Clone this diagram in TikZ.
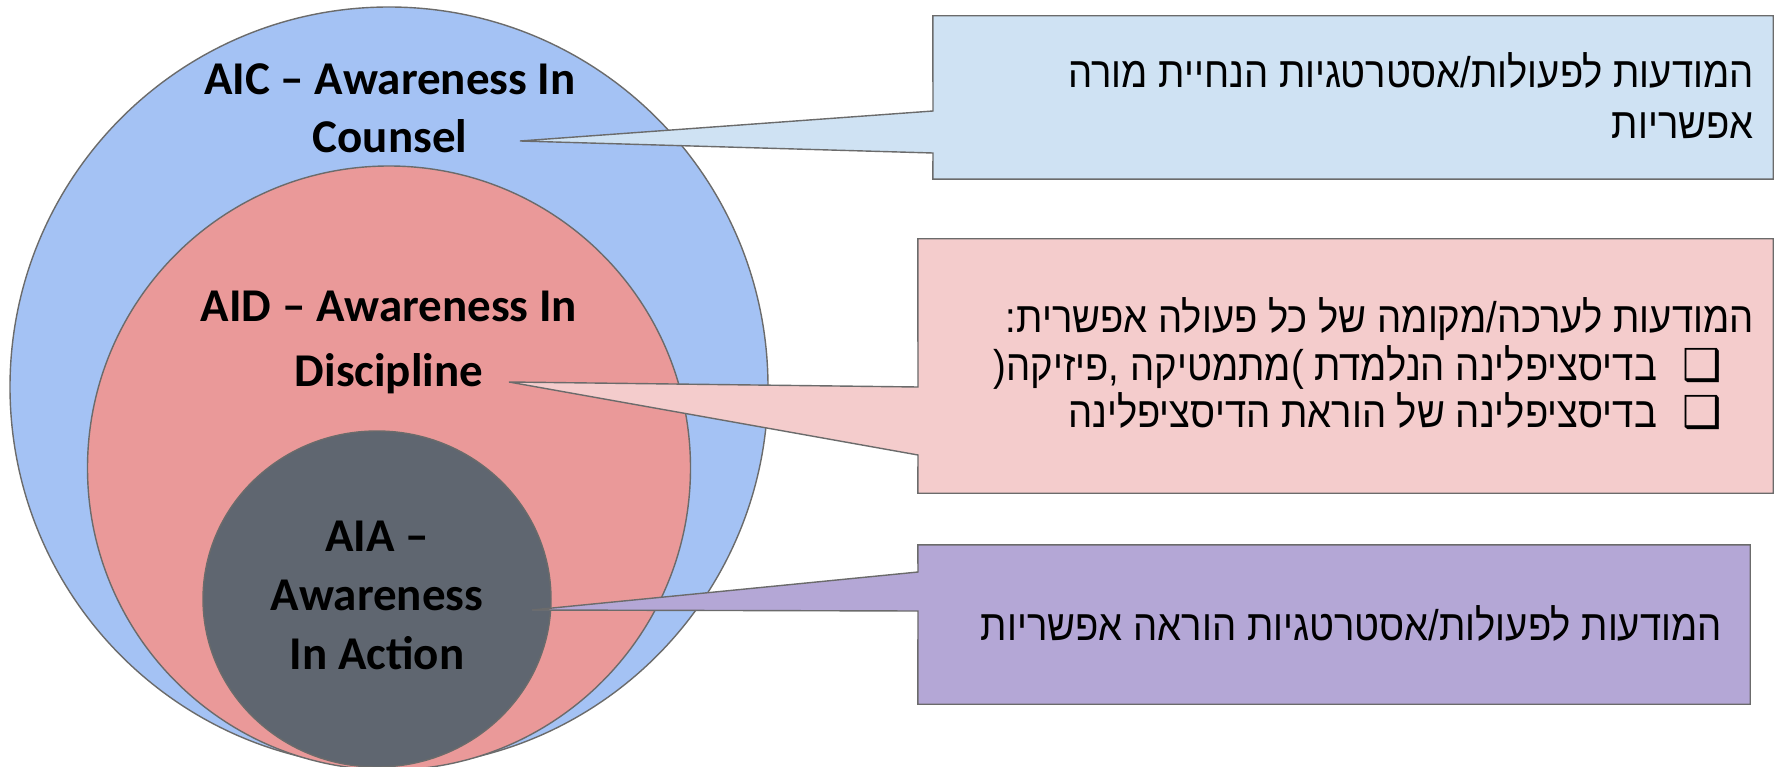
\documentclass[tikz,border=0pt]{standalone}
\usepackage{fontspec}
\setmainfont{Carlito}
\newfontfamily\hebfont[Script=Hebrew, FakeStretch=0.89]{Liberation Sans}
\newfontfamily\symfont{DejaVu Sans}
\TeXXeTstate=1
\usetikzlibrary{shapes.geometric}
\definecolor{aicfill}{HTML}{A4C2F4}
\definecolor{aidfill}{HTML}{EA9999}
\definecolor{aiafill}{HTML}{5F6670}
\definecolor{boxblue}{HTML}{CFE2F3}
\definecolor{boxpink}{HTML}{F4CCCC}
\definecolor{boxpurple}{HTML}{B4A7D6}
\definecolor{edge}{HTML}{6B6B6B}
\begin{document}
\begin{tikzpicture}[x=1pt,y=-1pt,
  ring/.style={ellipse, draw=edge, line width=1.4pt, inner sep=0pt},
  boxnode/.style={rectangle, inner sep=0pt},
  callout/.style={draw=edge, line width=1.4pt, line join=miter},
  lbl/.style={font=\fontsize{47}{56}\selectfont\bfseries, text=black, inner sep=0pt, anchor=base},
  heb/.style={font=\fontsize{43}{50}\selectfont\hebfont, text=black, inner sep=0pt, anchor=base east},
  chk/.style={font=\fontsize{44}{50}\selectfont\symfont, text=black, inner sep=0pt, anchor=base east}]
\useasboundingbox (0,0) rectangle (1775,767);
\fill[white] (0,0) rectangle (1775,767);

% circles
\node[ring, fill=aicfill, minimum width=758pt, minimum height=760pt] (aic) at (389,387) {};
\node[ring, fill=aidfill, minimum width=603pt, minimum height=604pt] (aid) at (389,468) {};
\node[ring, fill=aiafill, minimum width=348pt, minimum height=336pt] (aia) at (377,599) {};

% boxes (named) and callouts
\node[boxnode, minimum width=840pt, minimum height=163pt] (boxC) at (1353,97.5) {};
\node[boxnode, minimum width=855pt, minimum height=254pt] (boxD) at (1345.5,366) {};
\node[boxnode, minimum width=832pt, minimum height=159pt] (boxA) at (1334,624.5) {};

\coordinate (tipC) at (520,141);
\coordinate (tipD) at (509,382);
\coordinate (tipA) at (532,610);

\path[callout, fill=boxblue] (boxC.north west) -- (boxC.north east) -- (boxC.south east) -- (boxC.south west)
  -- (933,153) -- (tipC) -- (933,111) -- cycle;
\path[callout, fill=boxpink] (boxD.north west) -- (boxD.north east) -- (boxD.south east) -- (boxD.south west)
  -- (918,455) -- (tipD) -- (918,387) -- cycle;
\path[callout, fill=boxpurple] (boxA.north west) -- (boxA.north east) -- (boxA.south east) -- (boxA.south west)
  -- (918,611) -- (tipA) -- (918,572) -- cycle;

% circle labels
\node[lbl] (aicA) at (390,95) {AIC – Awareness In};
\node[lbl] (aicB) at (390,153) {Counsel};
\node[lbl] (aidA) at (389,321) {AID – Awareness In};
\node[lbl] (aidB) at (389,386) {Discipline};
\node[lbl] (aiaA) at (377,551) {AIA –};
\node[lbl] (aiaB) at (377,610) {Awareness};
\node[lbl] (aiaC) at (377,669) {In Action};

% box texts
\node[heb] (tC1) at (1754,88) {\beginR המודעות לפעולות/אסטרטגיות הנחיית מורה\endR};
\node[heb] (tC2) at (1754,139) {\beginR אפשריות\endR};

\node[heb] (tD1) at (1754,332) {\beginR המודעות לערכה/מקומה של כל פעולה אפשרית:\endR};
\node[chk] (cb1) at (1722,380) {❑};
\node[heb] (tD2) at (1657,380) {\beginR בדיסציפלינה הנלמדת )מתמטיקה ,פיזיקה(\endR};
\node[chk] (cb2) at (1722,427) {❑};
\node[heb] (tD3) at (1657,427) {\beginR בדיסציפלינה של הוראת הדיסציפלינה\endR};

\node[heb] (tA1) at (1722,640) {\beginR המודעות לפעולות/אסטרטגיות הוראה אפשריות\endR};
\end{tikzpicture}
\end{document}
